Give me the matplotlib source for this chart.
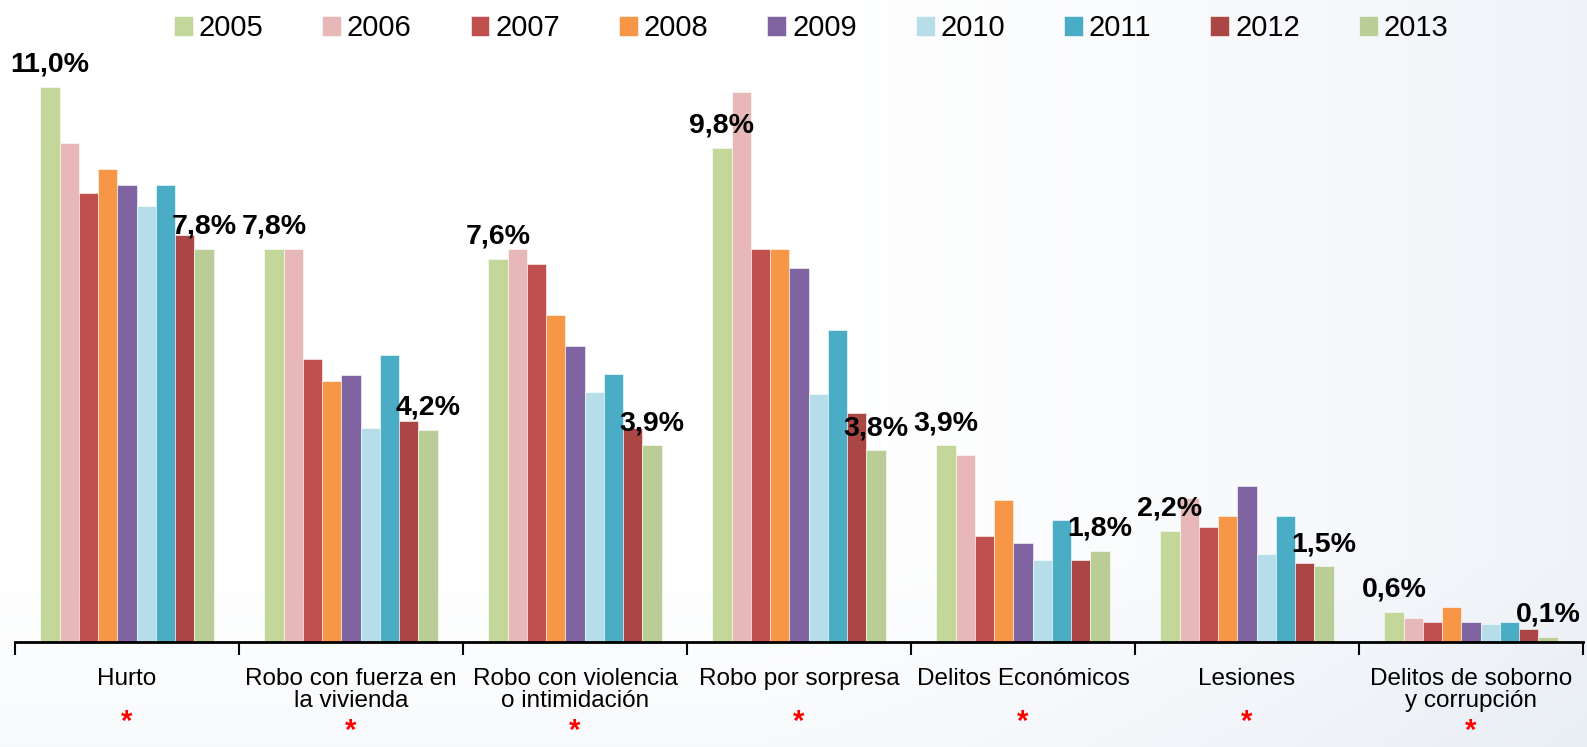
import numpy as np
import matplotlib
matplotlib.use('Agg')
import matplotlib.pyplot as plt
from matplotlib.colors import LinearSegmentedColormap

# categories and yearly values (% victimisation)
categorias = ['Hurto', 'Robo con fuerza en\nla vivienda', 'Robo con violencia\no intimidación',
              'Robo por sorpresa', 'Delitos Económicos', 'Lesiones',
              'Delitos de soborno\ny corrupción']
anios = ['2005', '2006', '2007', '2008', '2009', '2010', '2011', '2012', '2013']

v2005 = [11.0, 7.8, 7.6, 9.8, 3.9, 2.2, 0.6]
v2006 = [9.9, 7.8, 7.8, 10.9, 3.7, 2.85, 0.48]
v2007 = [8.9, 5.62, 7.5, 7.8, 2.11, 2.28, 0.4]
v2008 = [9.38, 5.17, 6.48, 7.8, 2.81, 2.5, 0.7]
v2009 = [9.07, 5.3, 5.87, 7.41, 1.97, 3.1, 0.4]
v2010 = [8.64, 4.25, 4.95, 4.91, 1.62, 1.75, 0.35]
v2011 = [9.07, 5.7, 5.31, 6.18, 2.41, 2.5, 0.4]
v2012 = [8.06, 4.38, 4.25, 4.55, 1.62, 1.57, 0.26]
v2013 = [7.8, 4.2, 3.9, 3.8, 1.8, 1.5, 0.1]

series = [v2005, v2006, v2007, v2008, v2009, v2010, v2011, v2012, v2013]
colores = ['#C4D79B', '#E6B9B8', '#C0504D', '#F79646', '#8064A2',
           '#B7DEE8', '#4BACC6', '#AA4643', '#BACD96']

plt.rcParams['font.family'] = ['Liberation Sans', 'DejaVu Sans']

fig = plt.figure(figsize=(15.87, 7.47), dpi=100)

# faint bluish background on the right, like the slide
bg = fig.add_axes([0, 0, 1, 1], zorder=-10)
gx = np.linspace(0, 1, 400)
gy = np.linspace(0, 1, 200)
GX, GY = np.meshgrid(gx, gy)
grad = np.clip((GX - 0.45) / 0.55, 0, 1) ** 1.5 * 0.7 + np.clip((GY - 0.75) / 0.25, 0, 1) * 0.3
cmap_bg = LinearSegmentedColormap.from_list('bg', ['#ffffff', '#e9eef5'])
bg.imshow(grad, cmap=cmap_bg, aspect='auto', extent=[0, 1, 0, 1], vmin=0, vmax=1)
bg.axis('off')

ax = fig.add_axes([0.00945, 0.1406, 0.988, 0.7791])
ax.set_facecolor('none')

x = np.arange(len(categorias))
ancho = 0.086
for i, (vals, col, anio) in enumerate(zip(series, colores, anios)):
    pos = x + (i - 4) * ancho
    ax.bar(pos, vals, width=ancho, color=col, label=anio, edgecolor='white', linewidth=0.4)
    # only the first and last year carry a value label
    if i == 0 or i == len(series) - 1:
        for px, v in zip(pos, vals):
            ax.annotate(('%.1f%%' % v).replace('.', ','), (px, v), xytext=(0, 11),
                        textcoords='offset points', ha='center', va='baseline',
                        fontsize=20.5, fontweight='bold', color='black')

ax.set_xlim(-0.5, len(categorias) - 0.5)
ax.set_ylim(0, 11.54)
ax.set_yticks([])
for s in ['top', 'right', 'left']:
    ax.spines[s].set_visible(False)
ax.spines['bottom'].set_linewidth(2)
ax.spines['bottom'].set_color('black')

ax.set_xticks(x)
ax.set_xticklabels(categorias, fontsize=17.5, linespacing=1.0)
ax.tick_params(axis='x', which='major', length=0, pad=19)
ax.set_xticks(np.arange(-0.5, len(categorias)), minor=True)
ax.tick_params(axis='x', which='minor', length=9, width=1.5, direction='out')

# red asterisks below each category (a bit lower under two-line labels)
for xi, cat in zip(x, categorias):
    nl = cat.count('\n')
    ax.text(xi, -0.152 - 0.0138 * nl, '*', transform=ax.get_xaxis_transform(),
            ha='center', va='baseline', color='red', fontsize=21, fontweight='bold')

fig.legend(loc='center', bbox_to_anchor=(0.511, 0.962), ncol=9, frameon=False,
           fontsize=21, handlelength=0.65, handleheight=0.65, handletextpad=0.2,
           columnspacing=2.02)

fig.savefig('out.png', dpi=100)
